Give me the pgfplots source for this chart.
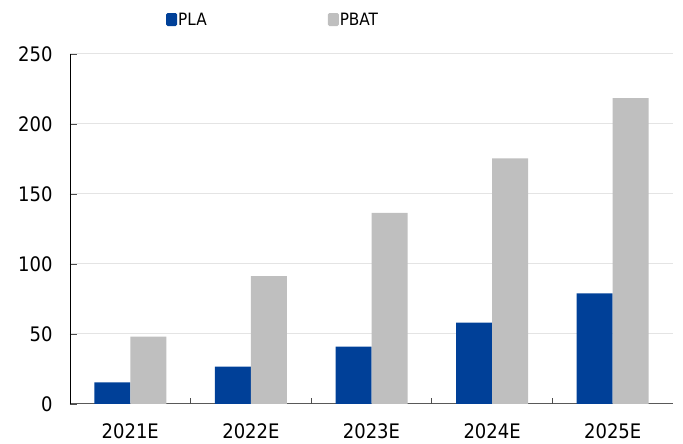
\documentclass[border=0pt]{standalone}
\usepackage{fontspec}
\setmainfont{DejaVu Sans Condensed}
\usepackage{pgfplots}
\pgfplotsset{compat=1.18}
\definecolor{plablue}{HTML}{004098}
\definecolor{pbatgray}{HTML}{BFBFBF}
\definecolor{gridgray}{HTML}{E4E4E4}
\begin{document}
\begin{tikzpicture}
\useasboundingbox (-70pt,-40pt) rectangle (613pt,404pt);
\begin{axis}[
  at={(0,0)}, anchor=south west, scale only axis,
  width=603pt, height=350pt,
  ybar=0pt, bar width=36pt,
  xmin=-0.5, xmax=4.5, ymin=0, ymax=250,
  xtick={0,1,2,3,4},
  xticklabels={2021E,2022E,2023E,2024E,2025E},
  ytick={0,50,100,150,200,250},
  axis x line=bottom, axis y line=left,
  axis line style={-},
  x axis line style={draw=black!65, line width=1pt},
  y axis line style={draw=black, line width=0.8pt},
  tick align=inside,
  major tick length=7pt,
  xtick style={draw=none},
  ytick style={draw=black!70, line width=0.8pt},
  extra x ticks={0.5,1.5,2.5,3.5},
  extra x tick labels={},
  extra x tick style={xtick style={draw=black!70, line width=0.8pt}, major tick length=6pt},
  ymajorgrids, grid style={gridgray, line width=1pt},
  /pgf/number format/assume math mode=true,
  tick label style={font=\fontsize{20}{22}\selectfont},
  yticklabel style={xshift=-14pt},
  xticklabel style={yshift=-16pt},
  legend style={at={(0.1542,1.0971)}, anchor=west, draw=none, fill=none,
    font=\fontsize{17}{19}\selectfont, legend columns=2,
    nodes={inner sep=1pt},
    /tikz/every even column/.append style={column sep=120pt}},
  legend image code/.code={\fill[#1, rounded corners=1.5pt] (0pt,-6pt) rectangle (11pt,7pt);},
]
\addplot[fill=plablue, draw=none] coordinates {(0,15.5) (1,26.7) (2,40.9) (3,58.2) (4,79.0)};
\addplot[fill=pbatgray, draw=none] coordinates {(0,48.1) (1,91.4) (2,136.6) (3,175.5) (4,218.4)};
\legend{PLA,PBAT}
\end{axis}
\end{tikzpicture}
\end{document}
